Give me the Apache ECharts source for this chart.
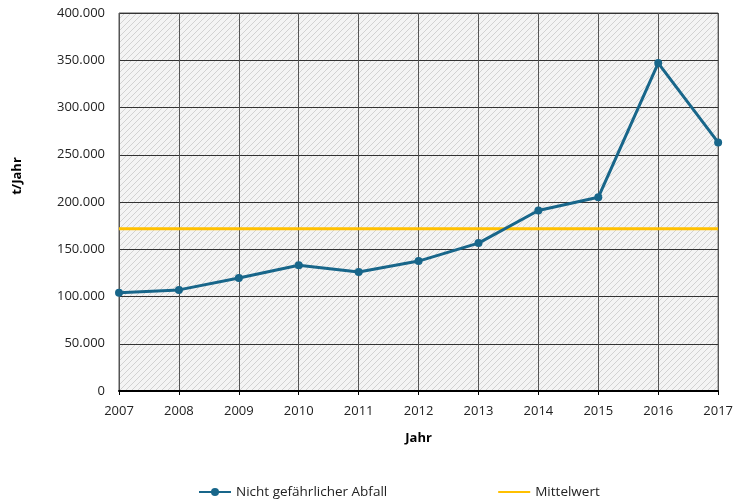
<!DOCTYPE html>
<html><head><meta charset="utf-8">
<script src="https://cdn.jsdelivr.net/npm/echarts@6/dist/echarts.min.js"></script>
<style>html,body{margin:0;padding:0;background:#fff}#c{width:736px;height:501px}</style>
</head><body><div id="c"></div>
<script>
const years = ['2007','2008','2009','2010','2011','2012','2013','2014','2015','2016','2017'];
const abfall = [104000,107000,119500,133000,126000,137500,156500,191000,205000,347000,263000];
const mittelwert = [171800,171800,171800,171800,171800,171800,171800,171800,171800,171800,171800];
const yTicks = [0,50000,100000,150000,200000,250000,300000,350000,400000];

const pc = document.createElement('canvas');
pc.width = 6; pc.height = 6;
const g = pc.getContext('2d');
g.fillStyle = '#f4f4f4'; g.fillRect(0,0,6,6);
g.strokeStyle = '#d2d2d2'; g.lineWidth = 1;
g.beginPath();
g.moveTo(-1,7); g.lineTo(7,-1);
g.moveTo(-1,1); g.lineTo(1,-1);
g.moveTo(5,7); g.lineTo(7,5);
g.stroke();

const font = '"Open Sans", sans-serif';
const chart = echarts.init(document.getElementById('c'));
chart.setOption({
  animation: false,
  textStyle: {fontFamily: font},
  grid: {left: 119, right: 17, top: 13, bottom: 110, show: true,
    backgroundColor: {image: pc, repeat: 'repeat'}, borderColor: '#555', borderWidth: 1},
  graphic: [{type: 'text', x: 17, y: 176, rotation: Math.PI / 2,
    style: {text: 't/Jahr', font: 'bold 13px "Open Sans", sans-serif', fill: '#000',
      align: 'center', verticalAlign: 'middle'}}],
  xAxis: {type: 'category', data: years, boundaryGap: false,
    name: 'Jahr', nameLocation: 'middle', nameGap: 41,
    nameTextStyle: {fontWeight: 'bold', fontSize: 13, color: '#000', fontFamily: font},
    axisLine: {lineStyle: {color: '#000', width: 2}},
    axisTick: {show: true, length: 4, lineStyle: {color: '#000'}},
    axisLabel: {color: '#222', fontSize: 13, margin: 14, fontFamily: font},
    splitLine: {show: true, lineStyle: {color: '#555', width: 1}}},
  yAxis: {type: 'value', min: 0, max: 400000, interval: 50000,
    axisLine: {show: false}, axisTick: {show: false},
    axisLabel: {color: '#222', fontSize: 13, margin: 14, fontFamily: font,
      formatter: v => yTicks.includes(v) ? (v === 0 ? '0' : String(v).replace(/(\d)(?=(\d{3})+$)/g, '$1.')) : ''},
    splitLine: {show: true, lineStyle: {color: '#333', width: 1}}},
  legend: {bottom: -3, left: 193, itemGap: 110, itemWidth: 32, itemHeight: 10,
    textStyle: {color: '#222', fontSize: 13.5, fontFamily: font},
    data: ['Nicht gefährlicher Abfall', {name: 'Mittelwert', itemStyle: {opacity: 0}}]},
  series: [
    {name: 'Mittelwert', type: 'line', data: mittelwert, symbol: 'none',
      lineStyle: {color: '#ffc000', width: 3}, itemStyle: {color: '#ffc000'}, z: 3},
    {name: 'Nicht gefährlicher Abfall', type: 'line', data: abfall,
      symbol: 'circle', symbolSize: 8,
      lineStyle: {color: '#18668a', width: 3}, itemStyle: {color: '#18668a'}, z: 4}
  ]
});
</script></body></html>
